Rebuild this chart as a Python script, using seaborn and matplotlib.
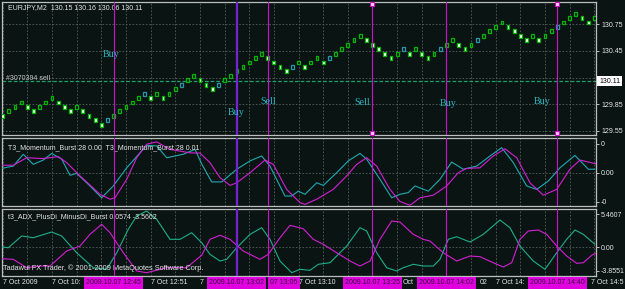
import matplotlib
matplotlib.use("Agg")
import matplotlib.pyplot as plt
import seaborn as sns
import pandas as pd
from matplotlib.transforms import blended_transform_factory as blend

# ---------------- data ----------------
bar_mid = [129.72, 129.77, 129.82, 129.87, 129.82, 129.77, 129.82, 129.87, 129.92, 129.87,
           129.82, 129.77, 129.82, 129.77, 129.72, 129.67, 129.62, 129.67, 129.72, 129.77,
           129.82, 129.87, 129.92, 129.97, 129.92, 129.97, 129.92, 129.97, 130.02, 130.07,
           130.12, 130.17, 130.12, 130.07, 130.02, 130.07, 130.12, 130.17, 130.22, 130.27,
           130.32, 130.37, 130.42, 130.37, 130.32, 130.27, 130.22, 130.27, 130.32, 130.27,
           130.32, 130.37, 130.32, 130.37, 130.42, 130.47, 130.52, 130.57, 130.62, 130.57,
           130.52, 130.47, 130.42, 130.37, 130.42, 130.47, 130.42, 130.47, 130.42, 130.37,
           130.42, 130.47, 130.52, 130.57, 130.52, 130.47, 130.52, 130.57, 130.62, 130.67,
           130.72, 130.77, 130.72, 130.67, 130.62, 130.57, 130.62, 130.57, 130.62, 130.67,
           130.72, 130.77, 130.82, 130.87, 130.82, 130.77, 130.82]
prev_mid = 129.77
teal_bars = [18, 24, 30, 36, 48, 54, 66, 72, 78, 91]

price_ticks = [129.55, 129.85, 130.15, 130.45, 130.75]
price_labels = ["129.55", "129.85", "", "130.45", "130.75"]   # 130.15 is hidden by the price box
current_price = 130.11
title_text = "EURJPY,M2  130.15 130.16 130.06 130.11"
order_label = "#3070394 sell"
order_label_y = 130.145

signal_bars = [19, 39, 44, 61, 73, 91]
signal_times = ["2009.10.07 12:45", "2009.10.07 13:02", "07 13:05",
                "2009.10.07 13:25", "2009.10.07 14:02", "2009.10.07 14:40"]
signal_words = ["Buy", "Buy", "Sell", "Sell", "Buy", "Buy"]
signal_word_x = [18.6, 38.9, 44.1, 59.3, 73.3, 88.5]
signal_word_y = [130.415, 129.755, 129.88, 129.87, 129.86, 129.88]

mom_title = "T3_Momentum_Burst 28 0.00  T3_Momentum_Burst 28 0.01"
mom_ticks = [1.0, 0.0, -1.0]
mom_labels = ["0", "0.00", "-0"]
mom_a_x = [0.56, 2.72, 4.34, 5.96, 7.59, 8.95, 10.57, 11.92, 13.0, 15.16, 17.06, 18.94, 21.12,
           23.28, 24.36, 25.99, 27.61, 30.3, 32.2, 33.3, 34.91, 36.53, 38.97, 41.13, 43.02,
           44.37, 46.8, 47.89, 48.96, 50.05, 51.95, 53.02, 55.19, 57.07, 58.97, 60.06, 62.22,
           64.12, 65.46, 66.81, 67.9, 70.06, 71.95, 73.85, 75.73, 77.91, 80.07, 81.96, 83.85,
           86.02, 87.64, 89.53, 91.42, 93.86, 96.02, 97.1]
mom_a_y = [0.14, 0.23, 0.64, 0.29, 0.44, 0.67, 0.47, -0.09, -0.02, -0.46, -0.87, -0.46, 0.17,
           0.69, 0.95, 0.93, 0.52, 0.64, 0.81, 0.3, -0.32, -0.32, 0.12, 0.41, 0.58,
           0.23, -0.81, -0.81, -0.64, -0.75, -0.35, -0.44, 0.0, 0.41, 0.67, 0.47, -0.23,
           -0.87, -0.75, -0.69, -0.46, -0.64, -0.23, 0.37, 0.12, 0.23, 0.58, 0.87, 0.35,
           -0.46, -0.58, -0.29, 0.17, 0.6, 0.12, 0.12]
mom_b_x = [0.56, 2.72, 4.89, 7.59, 10.02, 11.38, 13.54, 16.79, 18.41, 19.22, 21.12, 22.74,
           24.36, 25.99, 28.14, 31.39, 33.01, 34.63, 36.26, 37.88, 38.97, 41.13, 43.56, 44.91,
           47.08, 49.24, 50.05, 51.95, 54.64, 56.82, 58.44, 60.06, 61.68, 63.84, 65.46, 67.09,
           68.71, 70.87, 73.04, 74.92, 76.29, 78.44, 80.6, 82.5, 84.4, 86.56, 88.72, 90.89,
           93.05, 94.67, 96.83, 97.3]
mom_b_y = [0.26, 0.26, 0.52, 0.49, 0.56, 0.35, -0.11, -0.75, -0.92, -0.87, -0.23, 0.52,
           0.99, 1.07, 0.81, 0.69, 0.68, 0.35, -0.17, -0.44, -0.35, 0.0, 0.44, 0.29,
           -0.58, -1.04, -1.1, -0.92, -0.58, -0.11, 0.29, 0.52, 0.23, -0.58, -1.0, -1.13,
           -0.87, -0.78, -0.46, 0.0, 0.15, 0.17, 0.58, 0.83, 0.52, -0.35, -0.78, -0.58,
           0.12, 0.44, 0.33, 0.3]

adx_title = "t3_ADX_PlusDi_MinusDi_Burst 0.0574 -3.5662"
adx_ticks = [5.4607, 0.0, -3.8551]
adx_labels = ["5.4607", "0.00", "-3.8551"]
adx_a_x = [0.56, 1.91, 4.08, 5.96, 8.95, 10.57, 13.0, 15.7, 17.87, 19.5, 21.38, 22.74, 24.36,
           25.99, 28.14, 29.77, 31.66, 33.29, 34.63, 36.26, 37.34, 38.97, 41.13, 43.02, 44.37,
           45.99, 47.89, 49.24, 50.86, 52.21, 54.1, 56.82, 58.97, 60.06, 61.68, 63.31, 64.93,
           66.0, 67.62, 69.24, 70.87, 71.95, 73.3, 74.66, 76.82, 78.98, 81.69, 83.31, 84.93,
           87.09, 88.99, 90.89, 92.51, 93.86, 95.21, 97.1]
adx_a_y = [0.1, -0.07, 1.86, 1.58, 2.51, 1.86, -0.89, -3.35, -3.61, -0.89, 2.96, 5.14, 5.96,
           4.6, 1.31, 1.31, 2.4, 0.76, -1.15, -2.25, -1.97, -0.07, 2.13, 3.22, 1.31,
           -2.25, -4.17, -3.61, -3.78, -2.79, -2.53, 0.21, 3.22, 2.68, -0.89, -3.35, -3.89,
           -3.35, -2.79, -3.07, -3.07, -1.97, 1.31, 1.74, 0.87, 2.13, 4.48, 3.22, 0.21,
           -2.25, -3.61, -0.89, 1.31, 2.84, 2.13, 0.49]
adx_b_x = [0.56, 2.72, 4.89, 7.05, 8.67, 11.38, 13.54, 15.16, 17.06, 18.41, 20.57, 22.74,
           24.36, 27.61, 30.85, 32.48, 33.3, 34.63, 36.26, 37.88, 40.04, 42.75, 44.09, 46.0,
           47.62, 49.77, 51.4, 53.02, 55.19, 57.35, 58.97, 60.6, 62.22, 64.12, 65.46, 67.62,
           69.24, 70.33, 72.49, 74.66, 76.82, 78.44, 80.6, 82.23, 83.59, 84.93, 86.28, 87.9,
           89.27, 90.89, 92.51, 94.14, 95.21, 96.57, 97.3]
adx_b_y = [-1.87, -1.97, -3.35, -3.07, -3.07, -0.61, 0.21, 2.13, 3.78, 2.4, -0.89, -3.89,
           -4.17, -3.35, -3.35, -1.97, -1.3, 1.31, 1.97, 1.31, -0.61, -1.97, -1.15, 1.58,
           3.61, 3.05, 1.31, 0.49, -0.89, -2.25, -3.07, -2.25, 1.31, 4.32, 4.15, 2.13,
           1.31, 1.03, -0.89, -2.25, -1.43, -1.54, -2.53, -3.23, -2.53, 1.31, 2.68, 2.84,
           2.13, 0.21, -1.43, -2.63, -2.53, -1.31, -0.95]

grid_bars = list(range(1, 98, 4))
time_label_bars = [1, 9, 25, 33, 49, 65.95, 78.4, 81, 96.4]
time_labels = ["7 Oct 2009", "7 Oct 10:", "7 Oct 12:51", "7", "7 Oct 13:10",
               "Oct", "02", "7 Oct 14:", "7 Oct 14:5"]
footer = "Tadawul FX Trader, \u00a9 2001-2009 MetaQuotes Software Corp."

# ---------------- style ----------------
BG = "#0A1513"
GRID = "#55605E"
SPINE = "#BDBDBD"
TXT = "#E6E6E6"
UP_EDGE = "#00B800"
TEAL_EDGE = "#2A98A8"
CYAN = "#1FA9B2"
MAG = "#D51ED5"
ADXG = "#1DAE8A"
SIG = "#D010D0"
SIG_THICK = "#7424D2"
WORD = "#2CB6C0"
FONT = ["Liberation Sans", "DejaVu Sans"]
FS = 5.0

sns.set_style("dark")
plt.rcParams["font.family"] = FONT
plt.rcParams["axes.facecolor"] = BG

W, H = 625, 289
fig = plt.figure(figsize=(W / 100, H / 100), dpi=100, facecolor=BG)


def px_axes(left, top, right, bottom):
    return fig.add_axes([left / W, 1 - bottom / H, (right - left) / W, (bottom - top) / H])


ax1 = px_axes(2, 2, 596, 135)
ax2 = px_axes(2, 138, 596, 206)
ax3 = px_axes(2, 209, 596, 276)
XL = (0.886, 97.27)
lims = {ax1: (129.505, 131.0), ax2: (-1.156, 1.205), ax3: (-4.71, 6.29)}

for ax in (ax1, ax2, ax3):
    ax.set_facecolor(BG)
    for s in ax.spines.values():
        s.set_color(SPINE)
        s.set_linewidth(0.9)
    ax.grid(False)
    for gb in grid_bars:
        ax.axvline(gb, color=GRID, lw=0.6, ls=(0, (2, 2)), zorder=0.5)

# ---- candles ----
bars = list(range(1, len(bar_mid) + 1))
prev = [prev_mid] + bar_mid[:-1]
face, edge = [], []
for b, m, p in zip(bars, bar_mid, prev):
    if m > p:
        face.append(BG)
        edge.append(TEAL_EDGE if b in teal_bars else UP_EDGE)
    else:
        face.append("#FFFFFF")
        edge.append(UP_EDGE)
body = 0.044
ax1.bar(bars, [body] * len(bars), bottom=[m - body / 2 for m in bar_mid], width=0.45,
        color=face, edgecolor=edge, linewidth=0.9, zorder=3)

for t in price_ticks:
    ax1.axhline(t, color=GRID, lw=0.6, ls=(0, (2, 2)), zorder=0.5)
ax1.axhline(current_price, color="#1E9E6A", lw=0.9, ls=(0, (3, 1.5)), zorder=1)

ax1.text(0.01, 0.955, title_text, transform=ax1.transAxes, color=TXT, fontsize=FS,
         va="center", ha="left")
ax1.text(4.5 / 594, order_label_y, order_label, transform=blend(ax1.transAxes, ax1.transData),
         color="#C8C8C8", fontsize=FS, va="center", ha="left")
for w, x, y in zip(signal_words, signal_word_x, signal_word_y):
    ax1.text(x, y, w, color=WORD, fontsize=7.2, family=["Liberation Serif", "DejaVu Serif"],
             ha="center", va="center", zorder=5)

# ---- indicator lines ----
sns.lineplot(x=mom_a_x, y=mom_a_y, ax=ax2, color=CYAN, lw=0.8, sort=False, estimator=None, zorder=3)
sns.lineplot(x=mom_b_x, y=mom_b_y, ax=ax2, color=MAG, lw=0.8, sort=False, estimator=None, zorder=3)
ax2.axhline(0, color=GRID, lw=0.6, ls=(0, (2, 2)), zorder=0.5)
ax2.text(0.01, 0.86, mom_title, transform=ax2.transAxes, color=TXT, fontsize=FS, va="center")

sns.lineplot(x=adx_a_x, y=adx_a_y, ax=ax3, color=ADXG, lw=0.8, sort=False, estimator=None, zorder=3)
sns.lineplot(x=adx_b_x, y=adx_b_y, ax=ax3, color=MAG, lw=0.8, sort=False, estimator=None, zorder=3)
ax3.axhline(0, color=GRID, lw=0.6, ls=(0, (2, 2)), zorder=0.5)
ax3.text(0.01, 0.88, adx_title, transform=ax3.transAxes, color=TXT, fontsize=FS, va="center")
ax3.text(0.002, 0.115, footer, transform=ax3.transAxes, color=TXT, fontsize=FS + 0.3, va="center")

# ---- signal lines ----
for b in signal_bars:
    thick = (b == 39)
    for ax in (ax1, ax2, ax3):
        ax.axvline(b, color=SIG_THICK if thick else SIG, lw=1.6 if thick else 0.8, zorder=4)
for b in (61, 91):
    ax1.plot([b, b], [0.985, 0.012], transform=blend(ax1.transData, ax1.transAxes), ls="none",
             marker="s", ms=2.6, mfc="#FFD0FF", mec=SIG, mew=0.8, zorder=6, clip_on=False)

# ---- axes ticks ----
for ax, ticks, labels in ((ax1, price_ticks, price_labels), (ax2, mom_ticks, mom_labels),
                          (ax3, adx_ticks, adx_labels)):
    ax.set_xlim(*XL)
    ax.set_ylim(*lims[ax])
    ax.set_xlabel("")
    ax.set_ylabel("")
    ax.yaxis.tick_right()
    ax.set_yticks(ticks)
    ax.set_yticklabels(labels)
    ax.tick_params(axis="y", colors=SPINE, labelcolor=TXT, labelsize=FS, length=2.5, width=0.7,
                   pad=1.2, direction="out", right=True, left=False)
    ax.set_xticks([])
ax3.set_xticks(grid_bars)
ax3.set_xticklabels([])
ax3.tick_params(axis="x", colors=SPINE, length=2.5, width=0.7, direction="out")

ax1.text(1.0 + 3 / 594, current_price, "130.11", transform=blend(ax1.transAxes, ax1.transData),
         ha="left", va="center", fontsize=FS, color="#000000", zorder=10, clip_on=False,
         bbox=dict(boxstyle="square,pad=0.25", fc="#FFFFFF", ec="none"))

# ---- time axis ----
ty = 1 - 283 / H
tr = blend(ax3.transData, fig.transFigure)
for b, lab in zip(time_label_bars, time_labels):
    fig.text(b, ty, lab, transform=tr, color=TXT, fontsize=FS, ha="left", va="center")
for b, lab in zip(signal_bars, signal_times):
    if lab.startswith("07"):
        fig.text(b + 30 / 6.163, ty, lab, transform=tr, color="#3A003A", fontsize=FS,
                 ha="right", va="center", zorder=4,
                 bbox=dict(boxstyle="square,pad=0.3", fc="#E000E0", ec="none"))
    else:
        fig.text(b, ty, lab, transform=tr, color="#3A003A", fontsize=FS, ha="center",
                 va="center", zorder=5,
                 bbox=dict(boxstyle="square,pad=0.3", fc="#E000E0", ec="none"))

fig.savefig("out.png", dpi=100, facecolor=BG)
